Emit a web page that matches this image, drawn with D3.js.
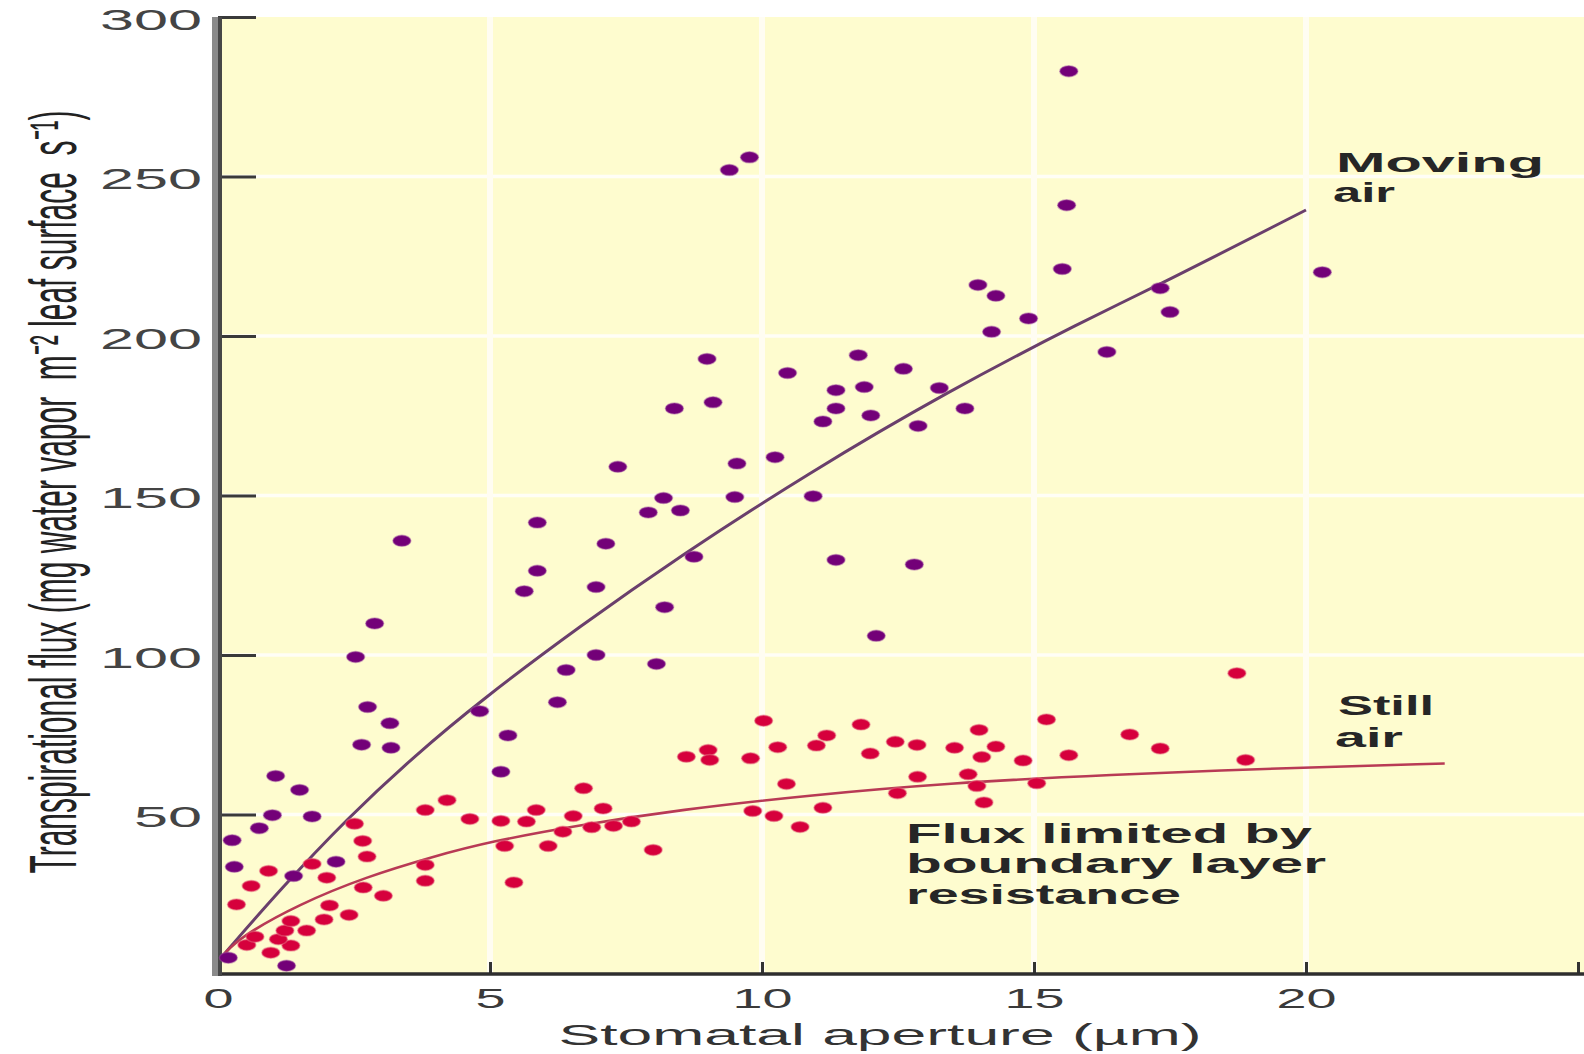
<!DOCTYPE html>
<html>
<head>
<meta charset="UTF-8">
<title>Stomatal aperture vs transpirational flux</title>
<script src="https://cdn.jsdelivr.net/npm/d3@7/dist/d3.min.js"></script>
<style>
  html, body { margin: 0; padding: 0; background: #fff; }
  svg { display: block; font-family: "Liberation Sans", Arial, sans-serif; }
  text { white-space: pre; }
</style>
</head>
<body>
<div id="chart"></div>
<script>
// values: [aperture (um), flux]
const movingAir = [
  [15.64,283],[9.77,256],[9.40,252],[15.6,241],[15.52,221],[20.3,220],[13.97,216],[14.3,212.6],
  [17.32,215],[17.5,207.5],[14.9,205.5],[14.22,201.3],[16.34,195],[8.99,192.8],[11.77,194],[12.6,189.7],
  [10.47,188.4],[11.36,183],[11.88,184],[13.26,183.7],[9.1,179.2],[8.39,177.3],[11.36,177.3],[12.0,175.1],
  [13.73,177.3],[11.12,173.2],[12.87,171.8],[7.35,159],[9.54,160],[10.24,162],[8.19,149.2],[9.5,149.5],
  [10.94,149.8],[7.91,144.7],[8.5,145.3],[5.87,141.5],[3.38,135.8],[7.13,134.9],[8.75,130.8],[11.36,129.8],
  [12.8,128.4],[5.87,126.4],[6.95,121.3],[5.63,120],[8.21,115],[2.88,109.9],[12.1,106],[2.53,99.4],
  [8.06,97.2],[6.95,100],[6.4,95.3],[6.24,85.2],[4.81,82.4],[2.75,83.7],[5.33,74.8],[3.16,78.6],
  [2.64,71.9],[3.18,70.9],[5.2,63.4],[1.06,62.1],[1.5,57.7],[1.0,49.8],[1.73,49.4],[0.76,45.7],
  [0.26,41.9],[2.17,35.2],[0.3,33.6],[1.39,30.7],[0.19,5.1],[1.26,2.6]
];
const stillAir = [
  [0.97,6.7],[0.53,9.1],[1.34,8.9],[1.11,10.9],[0.68,11.7],[1.23,13.6],[1.63,13.6],[1.34,16.6],
  [1.95,17.1],[2.41,18.5],[0.34,21.8],[2.05,21.5],[3.04,24.5],[2.67,27.1],[0.61,27.6],[2.0,30.2],
  [0.93,32.3],[1.73,34.5],[2.74,36.8],[2.66,41.7],[2.51,47.1],[3.81,29.2],[3.81,34.2],[3.81,51.4],
  [4.21,54.5],[4.63,48.6],[5.2,48.0],[5.27,40.1],[5.44,28.7],[5.67,47.8],[5.85,51.4],
  [6.07,40.1],[6.34,44.6],[6.53,49.5],[6.72,58.2],[6.87,46],[7.08,51.9],[7.27,46.4],[7.6,47.8],
  [8.0,38.9],[8.61,68.1],[9.01,70.2],[9.04,67.1],[9.79,67.6],[9.83,51.1],[10.03,79.4],[10.22,49.5],
  [10.29,71.1],[10.45,59.6],[10.7,46.1],
  [11.82,78.2],[11.19,74.8],[11.0,71.6],[11.99,69.1],[12.45,72.8],[12.85,71.8],[13.54,70.9],[13.99,76.5],
  [14.3,71.3],[14.04,68],[14.8,66.9],[15.23,79.8],[15.64,68.6],[11.12,52.1],[12.49,56.7],[12.86,61.8],
  [13.79,62.6],[13.95,58.9],[14.08,53.8],[15.05,59.8],
  [16.76,75.1],[17.32,70.7],[18.73,94.3],[18.89,67.1]
];
// fitted curves
const movingCurve = [[0.1,6],[1.17,27],[2.39,49],[3.62,68.5],[4.85,86],[6.65,109],[8.49,131],
  [10.85,157],[13.4,182.5],[15.94,205],[17.3,216],[20.0,239.5]];
const stillCurve = [[0.1,6],[0.4,11.5],[1.5,22],[2.73,30.5],[3.95,36.8],[5.0,41.5],[6.65,46.7],
  [8.49,51.5],[10.85,56],[13.4,59.8],[16.4,62.5],[19.5,64.5],[22.55,66]];

const xTicks = [0, 5, 10, 15, 20, 25];
const xLabels = ["0", "5", "10", "15", "20", ""];
const yTicks = [50, 100, 150, 200, 250, 300];
const yGrid = [50, 100, 150, 200, 250];

const W = 1584, H = 1054;
const x = d3.scaleLinear().domain([0, 25]).range([218, 1578]);
const y = d3.scaleLinear().domain([0, 300]).range([974, 17]);

const svg = d3.select("#chart").append("svg").attr("width", W).attr("height", H);
svg.append("rect").attr("width", W).attr("height", H).attr("fill", "#fff");

// plot background
svg.append("rect")
  .attr("x", x(0)).attr("y", y(300))
  .attr("width", W - x(0)).attr("height", y(0) - y(300))
  .attr("fill", "#fefccf");

// grid
svg.append("g").selectAll("line").data(yGrid).join("line")
  .attr("x1", x(0)).attr("x2", W)
  .attr("y1", d => y(d)).attr("y2", d => y(d))
  .attr("stroke", "#fffef6").attr("stroke-width", 3.5);
svg.append("g").selectAll("line").data([5, 10, 15, 20]).join("line")
  .attr("x1", d => x(d)).attr("x2", d => x(d))
  .attr("y1", y(300)).attr("y2", y(0))
  .attr("stroke", "#fffdf2").attr("stroke-width", 6);

// y axis
const yAxis = svg.append("g").attr("transform", `translate(${x(0)},0)`)
  .call(d3.axisLeft(y).tickValues(yTicks).tickSize(-38).tickPadding(16));
yAxis.select(".domain").remove();
yAxis.selectAll(".tick line").attr("stroke", "#3a3a3a").attr("stroke-width", 3);
yAxis.selectAll(".tick text")
  .attr("font-size", 30).attr("fill", "#444").attr("font-family", "Liberation Sans, Arial")
  .attr("dy", "0.4em")
  .attr("textLength", d => String(d).length * 34)
  .attr("lengthAdjust", "spacingAndGlyphs");

// x axis
const xAxis = svg.append("g").attr("transform", `translate(0,${y(0)})`)
  .call(d3.axisBottom(x).tickValues(xTicks).tickSize(-12).tickPadding(14)
    .tickFormat((d, i) => xLabels[i]));
xAxis.select(".domain").remove();
xAxis.selectAll(".tick line").attr("stroke", "#333").attr("stroke-width", 3);
xAxis.selectAll(".tick text")
  .attr("font-size", 28).attr("fill", "#3a3a3a").attr("font-family", "Liberation Sans, Arial")
  .attr("textLength", (d, i) => xLabels[i].length * 30)
  .attr("lengthAdjust", "spacingAndGlyphs");

// axis lines
svg.append("line").attr("x1", 212).attr("x2", W).attr("y1", y(0)).attr("y2", y(0))
  .attr("stroke", "#2e2e2e").attr("stroke-width", 3.5);
svg.append("rect").attr("x", 212).attr("y", y(300)).attr("width", 6).attr("height", y(0) - y(300) + 2)
  .attr("fill", "#8a8a8a");
svg.append("line").attr("x1", x(0) + 2).attr("x2", x(0) + 2).attr("y1", y(300)).attr("y2", y(0) + 2)
  .attr("stroke", "#474747").attr("stroke-width", 4);

// curves
const line = d3.line().x(d => x(d[0])).y(d => y(d[1])).curve(d3.curveBasis);
svg.append("path").datum(movingCurve).attr("d", line)
  .attr("fill", "none").attr("stroke", "#6a3f6c").attr("stroke-width", 3);
svg.append("path").datum(stillCurve).attr("d", line)
  .attr("fill", "none").attr("stroke", "#b83a55").attr("stroke-width", 2.6);

// points
svg.append("g").selectAll("ellipse").data(movingAir).join("ellipse")
  .attr("cx", d => x(d[0])).attr("cy", d => y(d[1]))
  .attr("rx", 9).attr("ry", 5.5)
  .attr("fill", "#730078")
  .attr("stroke", "rgba(160,80,160,0.45)").attr("stroke-width", 1.5);
svg.append("g").selectAll("ellipse").data(stillAir).join("ellipse")
  .attr("cx", d => x(d[0])).attr("cy", d => y(d[1]))
  .attr("rx", 9).attr("ry", 5.5)
  .attr("fill", "#d6003c")
  .attr("stroke", "rgba(230,110,130,0.5)").attr("stroke-width", 1.5);

// annotations (the original figure is stretched wide, so glyphs are widened)
const notes = [
  ["Moving", 1336, 172, 208],
  ["air", 1333, 202, 62],
  ["Still", 1338, 715, 96],
  ["air", 1335, 747, 68],
  ["Flux limited by", 906, 843, 406],
  ["boundary layer", 906, 873, 420],
  ["resistance", 906, 904, 275]
];
svg.append("g").selectAll("text").data(notes).join("text")
  .attr("x", d => d[1]).attr("y", d => d[2])
  .attr("font-size", 28).attr("font-weight", "bold").attr("fill", "#262626")
  .attr("textLength", d => d[3]).attr("lengthAdjust", "spacingAndGlyphs")
  .text(d => d[0]);

// axis titles
svg.append("text")
  .attr("x", 880).attr("y", 1045).attr("text-anchor", "middle")
  .attr("font-size", 29).attr("fill", "#333")
  .attr("textLength", 643).attr("lengthAdjust", "spacingAndGlyphs")
  .text("Stomatal aperture (\u00b5m)");

// y title: glyph height widened with a scale, length fitted with textLength
svg.append("text")
  .attr("transform", "translate(76,492) rotate(-90) scale(1,1.43)")
  .attr("text-anchor", "middle")
  .attr("font-size", 46).attr("fill", "#222")
  .attr("font-family", "Liberation Sans Narrow, Liberation Sans, Arial")
  .attr("textLength", 763).attr("lengthAdjust", "spacingAndGlyphs")
  .text("Transpirational flux (mg water vapor  m\u207b\u00b2 leaf surface  s\u207b\u00b9)");
</script>
</body>
</html>
